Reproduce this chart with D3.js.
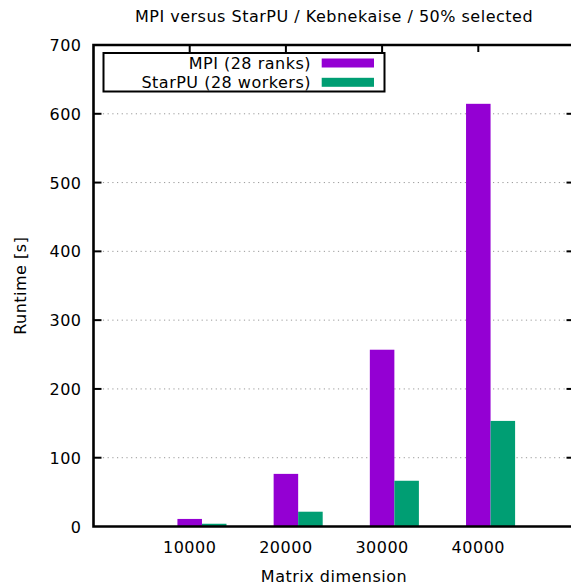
<!DOCTYPE html>
<html>
<head>
<meta charset="utf-8">
<title>MPI versus StarPU</title>
<script src="https://d3js.org/d3.v7.min.js"></script>
<style>
body { margin: 0; background: #fff; }
text { font-family: "DejaVu Sans", sans-serif; font-size: 16px; fill: #000; letter-spacing: 0.5px; }
</style>
</head>
<body>
<svg id="chart" width="571" height="585"></svg>
<script>
// data
const dims = [10000, 20000, 30000, 40000];
const mpiRuntime = [11, 76.5, 257, 614.5];
const starpuRuntime = [4, 21.5, 66.5, 153.5];
const yTicks = [0, 100, 200, 300, 400, 500, 600, 700];
const seriesNames = ["MPI (28 ranks)", "StarPU (28 workers)"];
const seriesColors = ["#9400d3", "#009e73"];

const svg = d3.select("#chart");
const LEFT = 93.5, RIGHT = 574.5, TOP = 45, BOTTOM = 526.5;
const BOX = 2550; // bar width in data units

const x = d3.scaleLinear().domain([0, 50000]).range([LEFT, RIGHT]);
const y = d3.scaleLinear().domain([0, 700]).range([BOTTOM, TOP]);

// title
svg.append("text")
   .attr("x", (LEFT + RIGHT) / 2).attr("y", 22)
   .attr("text-anchor", "middle")
   .text("MPI versus StarPU / Kebnekaise / 50% selected");

// grid
svg.append("g").selectAll("line")
   .data(yTicks.filter(t => t > 0 && t < 700))
   .join("line")
   .attr("x1", LEFT).attr("x2", RIGHT)
   .attr("y1", d => y(d)).attr("y2", d => y(d))
   .attr("stroke", "#999").attr("stroke-width", 1)
   .attr("stroke-dasharray", "1.2,3.5");

// ticks on all four sides (inward)
const tk = svg.append("g").attr("stroke", "#000").attr("stroke-width", 2);
yTicks.filter(t => t > 0 && t < 700).forEach(t => {
    tk.append("line").attr("x1", LEFT).attr("x2", LEFT + 8).attr("y1", y(t)).attr("y2", y(t));
    tk.append("line").attr("x1", RIGHT - 8).attr("x2", RIGHT).attr("y1", y(t)).attr("y2", y(t));
});
dims.forEach(d => {
    tk.append("line").attr("x1", x(d)).attr("x2", x(d)).attr("y1", TOP).attr("y2", TOP + 7);
    tk.append("line").attr("x1", x(d)).attr("x2", x(d)).attr("y1", BOTTOM).attr("y2", BOTTOM - 7);
});

// bars
const series = [mpiRuntime, starpuRuntime];
series.forEach((vals, i) => {
    svg.append("g").selectAll("rect")
       .data(dims.map((d, j) => ({ d: d, v: vals[j] })))
       .join("rect")
       .attr("x", p => x(p.d - BOX / 2 + i * BOX))
       .attr("width", x(BOX) - x(0))
       .attr("y", p => y(p.v))
       .attr("height", p => y(0) - y(p.v))
       .attr("fill", seriesColors[i]);
});

// border
svg.append("path")
   .attr("d", `M${RIGHT},${TOP}H${LEFT}V${BOTTOM}H${RIGHT}`)
   .attr("fill", "none").attr("stroke", "#000").attr("stroke-width", 2.6);

// y tick labels
svg.append("g").selectAll("text")
   .data(yTicks).join("text")
   .attr("x", 81.5).attr("y", d => y(d) + 6)
   .attr("text-anchor", "end")
   .text(d => d);

// x tick labels
svg.append("g").selectAll("text")
   .data(dims).join("text")
   .attr("x", d => x(d)).attr("y", 553.3)
   .attr("text-anchor", "middle")
   .text(d => d);

// axis titles
svg.append("text")
   .attr("x", (LEFT + RIGHT) / 2).attr("y", 582)
   .attr("text-anchor", "middle")
   .text("Matrix dimension");
svg.append("text")
   .attr("transform", `translate(25.5, ${(TOP + BOTTOM) / 2}) rotate(-90)`)
   .attr("text-anchor", "middle")
   .text("Runtime [s]");

// legend
const lg = svg.append("g");
lg.append("rect")
  .attr("x", 103.5).attr("y", 53).attr("width", 281).attr("height", 38.5)
  .attr("fill", "#fff").attr("stroke", "#000").attr("stroke-width", 2);
seriesNames.forEach((n, i) => {
    const cy = 63 + i * 19.3;
    lg.append("text").attr("x", 311).attr("y", cy + 5.8)
      .attr("text-anchor", "end").text(n);
    lg.append("rect").attr("x", 321.7).attr("y", cy - 4.5)
      .attr("width", 52.3).attr("height", 9)
      .attr("fill", seriesColors[i]);
});
</script>
</body>
</html>
